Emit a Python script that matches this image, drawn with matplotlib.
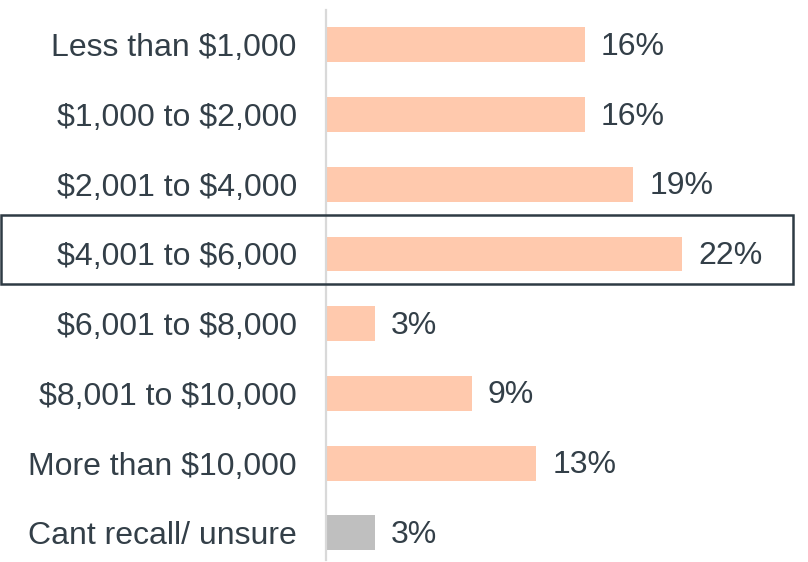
import matplotlib.pyplot as plt
from matplotlib.patches import Rectangle

plt.rcParams['font.family'] = ['Liberation Sans', 'DejaVu Sans']
plt.rcParams['text.parse_math'] = False

# Data
categories = ['Less than $1,000', '$1,000 to $2,000', '$2,001 to $4,000',
              '$4,001 to $6,000', '$6,001 to $8,000', '$8,001 to $10,000',
              'More than $10,000', 'Cant recall/ unsure']
values = [16, 16, 19, 22, 3, 9, 13, 3]
bar_colors = ['#FFC9AD'] * 7 + ['#BFBFBF']

text_color = '#333F48'

W, H = 808, 562
fig = plt.figure(figsize=(W / 100, H / 100), dpi=100)
ax = fig.add_axes([326 / W, 1 - 560 / H, 482 / W, 550 / H])

y = list(range(len(categories)))
ax.barh(y, values, height=0.5, color=bar_colors)
ax.set_xlim(0, 29.8)
ax.set_ylim(7.39, -0.5)

# value labels
for i, v in enumerate(values):
    ax.text(v + 1.0, i + 0.03, f'{v}%', va='center', ha='left',
            fontsize=23, color=text_color)

ax.set_yticks(y)
ax.set_yticklabels(categories, fontsize=23, color=text_color)
ax.tick_params(axis='y', length=0, pad=21)
ax.set_xticks([])

for s in ['top', 'right', 'bottom']:
    ax.spines[s].set_visible(False)
ax.spines['left'].set_color('#D9D9D9')
ax.spines['left'].set_linewidth(1.6)

# highlight box around the $4,001 to $6,000 row
fig.patches.append(Rectangle((1 / W, 1 - 284 / H), 792 / W, 69 / H,
                             transform=fig.transFigure, fill=False,
                             edgecolor='#2E3B44', linewidth=1.8))

fig.savefig('out.png', dpi=100)
